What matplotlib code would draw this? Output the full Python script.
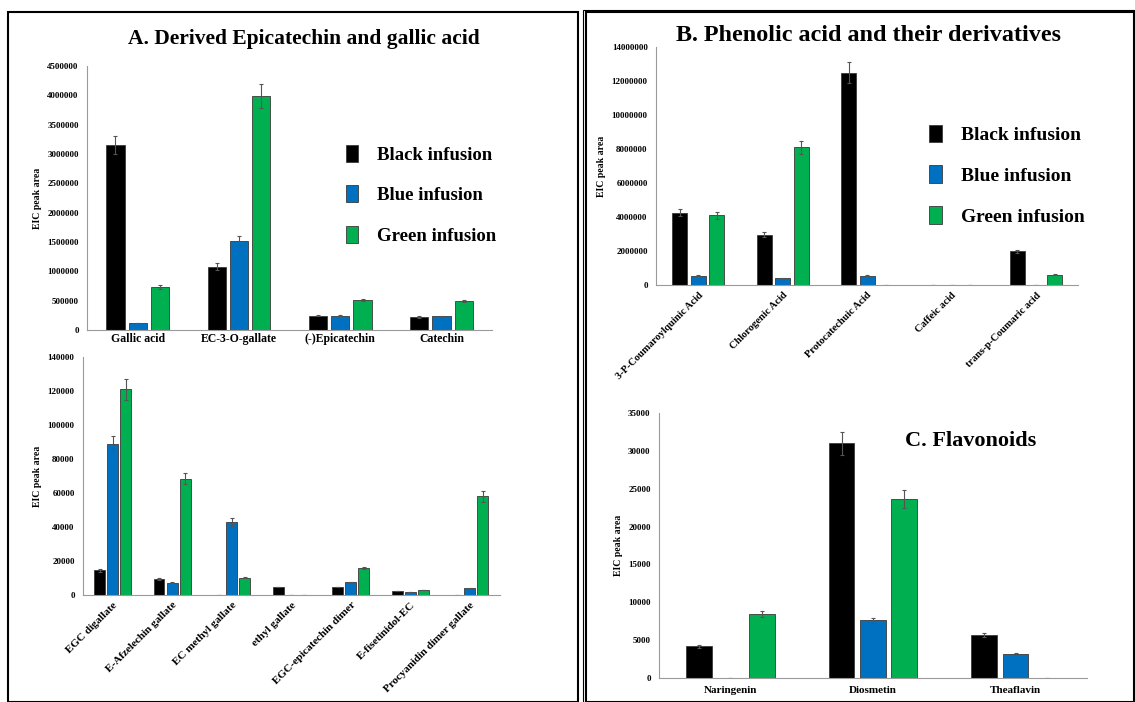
import numpy as np
import matplotlib
matplotlib.use("Agg")
import matplotlib.pyplot as plt
from matplotlib.patches import Rectangle
from matplotlib.ticker import FuncFormatter

plt.rcParams['font.family'] = ['Liberation Serif', 'DejaVu Serif']
plt.rcParams['font.weight'] = 'bold'

series = ["Black infusion", "Blue infusion", "Green infusion"]
colors = ["#000000", "#0070C0", "#00B050"]

# A (top): derived epicatechin and gallic acid
a_cats = ["Gallic acid", "EC-3-O-gallate", "(-)Epicatechin", "Catechin"]
a_black = [3150000, 1080000, 240000, 220000]
a_blue = [120000, 1520000, 240000, 230000]
a_green = [730000, 3990000, 510000, 490000]
a_err_black = [150000, 60000, 10000, 10000]
a_err_blue = [5000, 80000, 10000, 8000]
a_err_green = [30000, 200000, 15000, 15000]

# A (bottom)
a2_cats = ["EGC digallate", "E-Afzelechin gallate", "EC methyl gallate", "ethyl gallate",
           "EGC-epicatechin dimer", "E-fisetinidol-EC", "Procyanidin dimer gallate"]
a2_black = [14500, 9500, 0, 4800, 4800, 2300, 0]
a2_blue = [89000, 7200, 43000, 0, 7500, 1900, 3900]
a2_green = [121000, 68500, 10300, 0, 15700, 2700, 58000]
a2_err_black = [800, 500, 0, 0, 0, 0, 0]
a2_err_blue = [4500, 400, 2500, 0, 400, 0, 300]
a2_err_green = [6000, 3000, 500, 0, 600, 0, 3000]

# B: phenolic acids
b_cats = ["3-P-Coumaroylquinic Acid", "Chlorogenic Acid", "Protocatechuic Acid",
          "Caffeic acid", "trans-p-Coumaric acid"]
b_black = [4250000, 2950000, 12500000, 30000, 1980000]
b_blue = [550000, 400000, 550000, 0, 0]
b_green = [4100000, 8100000, 0, 0, 600000]
b_err_black = [200000, 150000, 600000, 0, 100000]
b_err_blue = [30000, 20000, 30000, 0, 0]
b_err_green = [200000, 400000, 0, 0, 20000]

# C: flavonoids
c_cats = ["Naringenin", "Diosmetin", "Theaflavin"]
c_black = [4200, 31000, 5700]
c_blue = [0, 7600, 3200]
c_green = [8400, 23600, 0]
c_err_black = [200, 1500, 300]
c_err_blue = [0, 300, 100]
c_err_green = [400, 1200, 0]


def draw(ax, cats, vals, errs, ymax, step, rot=0, fs_x=8):
    x = np.arange(len(cats))
    for i, (v, e) in enumerate(zip(vals, errs)):
        ax.bar(x + (i - 1) * 0.22, v, 0.18, color=colors[i], edgecolor='#3a3a3a',
               linewidth=0.6, yerr=e, capsize=1.5,
               error_kw=dict(ecolor='#555555', elinewidth=0.8, capthick=0.8),
               label=series[i])
    ax.set_xlim(-0.5, len(cats) - 0.5)
    ax.set_ylim(0, ymax)
    ax.set_yticks(np.arange(0, ymax + 1, step))
    ax.yaxis.set_major_formatter(FuncFormatter(lambda v, p: f"{v:.0f}"))
    ax.set_xticks(x)
    if rot:
        ax.set_xticklabels(cats, rotation=rot, ha='right', rotation_mode='anchor', fontsize=fs_x)
    else:
        ax.set_xticklabels(cats, fontsize=fs_x)
    ax.tick_params(axis='y', labelsize=6.5, length=0, pad=6)
    ax.tick_params(axis='x', length=0, pad=4)
    for s in ['top', 'right']:
        ax.spines[s].set_visible(False)
    for s in ['left', 'bottom']:
        ax.spines[s].set_color('#9a9a9a')
    ax.set_ylabel("EIC peak area", fontsize=7, fontweight='bold')


fig = plt.figure(figsize=(11.35, 7.02), dpi=100)

# panel frames
fig.add_artist(Rectangle((8 / 1135, 0), 570 / 1135, 1 - 12 / 702, transform=fig.transFigure,
                         fill=False, edgecolor='black', linewidth=1.5))
fig.add_artist(Rectangle((586 / 1135, 0), 548 / 1135, 1 - 12 / 702, transform=fig.transFigure,
                         fill=False, edgecolor='black', linewidth=1.5))
fig.add_artist(Rectangle((583 / 1135, 0), 552 / 1135, 1 - 10 / 702, transform=fig.transFigure,
                         fill=False, edgecolor='black', linewidth=0.8))

axA = fig.add_axes([0.0767, 0.530, 0.357, 0.376])
draw(axA, a_cats, [a_black, a_blue, a_green], [a_err_black, a_err_blue, a_err_green],
     4500000, 500000, fs_x=8.5)
axA.tick_params(axis='x', pad=2)
axA.legend(loc='upper left', bbox_to_anchor=(0.597, 0.765), frameon=False, fontsize=13.5,
           handlelength=0.65, handleheight=1.0, handletextpad=1.0, labelspacing=1.16)
fig.text(0.268, 0.945, "A. Derived Epicatechin and gallic acid", ha='center', va='center',
         fontsize=15.5, fontweight='bold')

axA2 = fig.add_axes([0.0731, 0.1524, 0.367, 0.339])
draw(axA2, a2_cats, [a2_black, a2_blue, a2_green], [a2_err_black, a2_err_blue, a2_err_green],
     140000, 20000, rot=45, fs_x=8)

axB = fig.add_axes([0.578, 0.594, 0.372, 0.339])
draw(axB, b_cats, [b_black, b_blue, b_green], [b_err_black, b_err_blue, b_err_green],
     14000000, 2000000, rot=45, fs_x=7.5)
axB.legend(loc='upper left', bbox_to_anchor=(0.606, 0.748), frameon=False, fontsize=14,
           handlelength=0.65, handleheight=1.0, handletextpad=1.0, labelspacing=1.11)
fig.text(0.765, 0.949, "B. Phenolic acid and their derivatives", ha='center', va='center',
         fontsize=17.4, fontweight='bold')

axC = fig.add_axes([0.5806, 0.0342, 0.377, 0.3775])
draw(axC, c_cats, [c_black, c_blue, c_green], [c_err_black, c_err_blue, c_err_green],
     35000, 5000, fs_x=8)
axC.tick_params(axis='x', pad=6)
fig.text(0.855, 0.372, "C. Flavonoids", ha='center', va='center', fontsize=16, fontweight='bold')

fig.savefig("out.png", dpi=100)
